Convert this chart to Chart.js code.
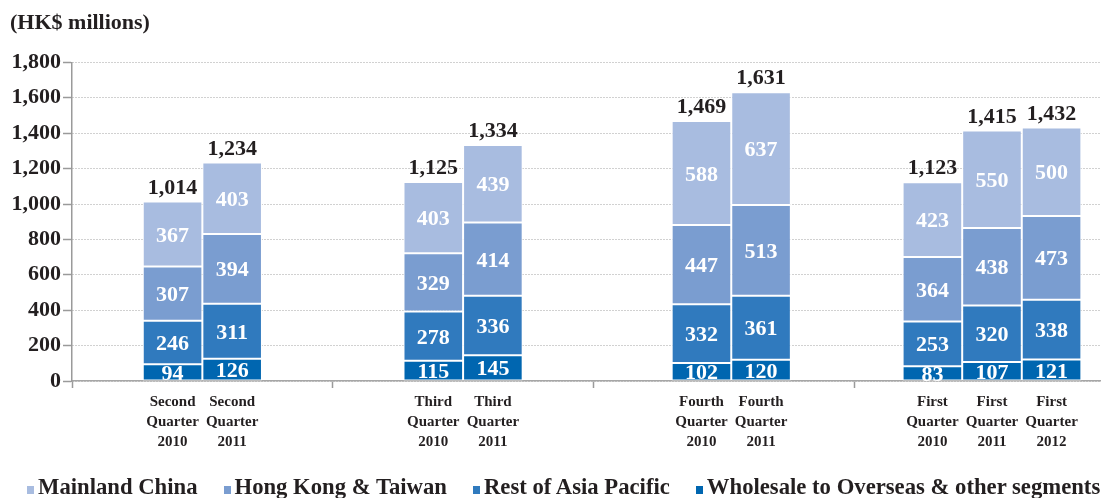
<!DOCTYPE html>
<html>
<head>
<meta charset="utf-8">
<script src="https://cdn.jsdelivr.net/npm/chart.js@4/dist/chart.umd.min.js"></script>
<style>
  html,body{margin:0;padding:0;background:#fff;overflow:hidden;}
  #wrap{position:relative;width:1108px;height:498px;}
  #legend{position:absolute;left:27px;top:476px;display:flex;gap:26px;white-space:nowrap;
    font:bold 22.7px "Liberation Serif","Times New Roman",serif;color:#231f20;line-height:22px;}
  #legend span.box{display:inline-block;width:7px;height:8px;margin-right:4px;vertical-align:0;}
</style>
</head>
<body>
<div id="wrap">
  <canvas id="chart"></canvas>
  <div id="legend"></div>
</div>
<script>
const categories=[
  ["Second","Quarter","2010"],["Second","Quarter","2011"],
  ["Third","Quarter","2010"],["Third","Quarter","2011"],
  ["Fourth","Quarter","2010"],["Fourth","Quarter","2011"],
  ["First","Quarter","2010"],["First","Quarter","2011"],["First","Quarter","2012"]
];
const mainlandChina=[367,403,403,439,588,637,423,550,500];
const hongKongTaiwan=[307,394,329,414,447,513,364,438,473];
const restOfAsiaPacific=[246,311,278,336,332,361,253,320,338];
const wholesaleOther=[94,126,115,145,102,120,83,107,121];
const yTicks=[0,200,400,600,800,1000,1200,1400,1600,1800];

// quarters sit on a fine 138-slot category axis (a bar spans 8 slots),
// the empty slots keep the groups apart
const SLOT_COUNT=138;
const SLOTS_PER_BAR=8;
const barSlots=[13,21,48,56,84,92,115,123,131];
const groupEdges=[0,35,70,105];

const FONT='"Liberation Serif","Times New Roman",serif';
const INK="#231f20";

function spread(values,empty){
  const out=new Array(SLOT_COUNT).fill(empty);
  barSlots.forEach((s,i)=>{out[s]=values[i];});
  return out;
}

const series=[
  {label:"Wholesale to Overseas & other segments",data:wholesaleOther,color:"#0066b0"},
  {label:"Rest of Asia Pacific",data:restOfAsiaPacific,color:"#307abe"},
  {label:"Hong Kong & Taiwan",data:hongKongTaiwan,color:"#7a9dd0"},
  {label:"Mainland China",data:mainlandChina,color:"#a8bce0"}
];

const totals=categories.map((c,i)=>series.reduce((s,d)=>s+d.data[i],0));

// white numbers in each segment, totals above each bar
const barLabels={
  id:"barLabels",
  afterDatasetsDraw(chart){
    const ctx=chart.ctx;
    const area=chart.chartArea;
    ctx.save();
    ctx.textAlign="center";
    ctx.textBaseline="alphabetic";
    ctx.font="bold 22px "+FONT;
    ctx.save();
    ctx.beginPath();
    ctx.rect(area.left,0,area.right-area.left,area.bottom);
    ctx.clip();
    ctx.fillStyle="#fff";
    chart.data.datasets.forEach((ds,di)=>{
      const meta=chart.getDatasetMeta(di);
      meta.data.forEach((bar,j)=>{
        const v=ds.data[j];
        if(v==null) return;
        const p=bar.getProps(["x","y","base"],true);
        ctx.fillText(String(v),p.x,(p.y+p.base)/2+7.5);
      });
    });
    ctx.restore();
    ctx.fillStyle=INK;
    const topMeta=chart.getDatasetMeta(chart.data.datasets.length-1);
    barSlots.forEach((s,i)=>{
      const p=topMeta.data[s].getProps(["x","y"],true);
      ctx.fillText(totals[i].toLocaleString("en-US"),p.x,p.y-8);
    });
    ctx.restore();
  }
};

const chart=new Chart(document.getElementById("chart"),{
  type:"bar",
  data:{
    labels:spread(categories,""),
    datasets:series.map(s=>({
      label:s.label,
      data:spread(s.data,null),
      backgroundColor:s.color,
      borderColor:"#ffffff",
      borderWidth:1,
      borderSkipped:false,
      barPercentage:SLOTS_PER_BAR,
      categoryPercentage:1
    }))
  },
  options:{
    responsive:true,
    maintainAspectRatio:false,
    animation:false,
    layout:{padding:{left:10,right:8,top:0,bottom:0}},
    plugins:{
      legend:{display:false},
      tooltip:{enabled:false},
      title:{
        display:true,
        text:"(HK$ millions)",
        align:"start",
        color:INK,
        font:{family:FONT,size:22,weight:"bold"},
        padding:{top:10,bottom:26}
      }
    },
    scales:{
      x:{
        stacked:true,
        afterFit(scale){scale.height=117;},
        grid:{
          display:true,
          drawOnChartArea:false,
          drawTicks:true,
          tickLength:7,
          tickWidth:1.5,
          color:"rgba(0,0,0,0)",
          tickColor:(c)=>groupEdges.includes(c.index)?"#9a9a9a":"rgba(0,0,0,0)"
        },
        border:{display:true,color:"#a6a6a6",width:1.5},
        ticks:{
          autoSkip:false,
          maxRotation:0,
          minRotation:0,
          padding:4,
          color:INK,
          font:{family:FONT,size:15,weight:"bold",lineHeight:1.33}
        }
      },
      y:{
        stacked:true,
        min:yTicks[0],
        max:yTicks[yTicks.length-1],
        afterFit(scale){scale.width=62;},
        afterBuildTicks(scale){scale.ticks=yTicks.map(v=>({value:v}));},
        grid:{
          color:"#a3a3a3",
          lineWidth:1,
          tickLength:9,
          tickColor:"#9a9a9a",
          tickWidth:1.5
        },
        border:{display:true,color:"#9a9a9a",width:1.5,dash:[1,2]},
        ticks:{
          padding:2,
          color:INK,
          font:{family:FONT,size:22,weight:"bold"},
          callback:(v)=>Number(v).toLocaleString("en-US")
        }
      }
    }
  },
  plugins:[barLabels]
});

// legend row, Mainland China first
const legend=document.getElementById("legend");
series.slice().reverse().forEach(s=>{
  const item=document.createElement("div");
  item.innerHTML=`<span class="box" style="background:${s.color}"></span>${s.label.replace("&","&amp;")}`;
  legend.appendChild(item);
});
</script>
</body>
</html>
